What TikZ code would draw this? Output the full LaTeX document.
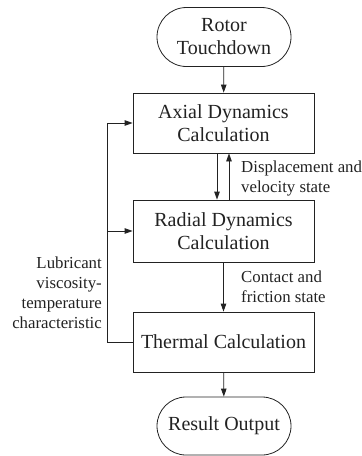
\documentclass[tikz,border=0pt]{standalone}
\usepackage{fontspec}
\setmainfont{Liberation Serif}
\usepackage{tikz}
\usetikzlibrary{arrows.meta, positioning, calc, shapes.misc}
\definecolor{lineGray}{HTML}{222222}
\tikzset{
    % Flow chart
    arrowFlow/.style={-{Triangle[length=8pt,width=5.5pt]}, line width=0.8pt, draw=lineGray},
    stepBox/.style={rectangle, draw=lineGray, line width=0.8pt, minimum width=181pt, minimum height=60pt,
        align=center, text=lineGray, font=\fontsize{20}{23}\selectfont, inner sep=0pt},
    termBox/.style={rounded rectangle, draw=lineGray, line width=0.8pt, minimum width=134pt, minimum height=59pt,
        align=center, text=lineGray, font=\fontsize{20}{23}\selectfont, inner sep=0pt},
    flowLabel/.style={text=lineGray, font=\fontsize{16.8}{20}\selectfont, inner sep=0pt}
}
\begin{document}
\begin{tikzpicture}[x=1pt, y=-1pt]
    \useasboundingbox (0,0) rectangle (362,456);
    % main chain
    \node[termBox] (touchdown) at (224,37) {Rotor\\Touchdown};
    \node[stepBox] (axial) at (223.5,123) {Axial Dynamics\\Calculation};
    \node[stepBox, minimum height=62pt] (radial) at (223.5,231) {Radial Dynamics\\Calculation};
    \node[stepBox] (thermal) at (223.5,342) {Thermal Calculation};
    \node[termBox, minimum height=58pt] (result) at (224,426) {Result Output};
    \draw[arrowFlow] (touchdown) -- (axial);
    \draw[arrowFlow] ([xshift=-6.5pt]axial.south) -- ([xshift=-6.5pt]radial.north);
    \draw[arrowFlow] ([xshift=5.5pt]radial.north) -- ([xshift=5.5pt]axial.south);
    \draw[arrowFlow] (radial) -- (thermal);
    \draw[arrowFlow] (thermal) -- (result);
    % feedback loop
    \draw[arrowFlow] (thermal.west) -- ++(-25,0) coordinate (loopBend) |- (axial.west);
    \draw[arrowFlow] (loopBend |- radial.west) -- (radial.west);
    % labels
    \node[flowLabel, anchor=west, align=left] (stateLabel) at (241,178) {Displacement and\\velocity state};
    \node[flowLabel, anchor=west, align=left] (contactLabel) at (241,287) {Contact and\\friction state};
    \node[flowLabel, anchor=east, align=right] (lubLabel) at (102,293) {Lubricant\\viscosity-\\temperature\\characteristic};
\end{tikzpicture}
\end{document}
